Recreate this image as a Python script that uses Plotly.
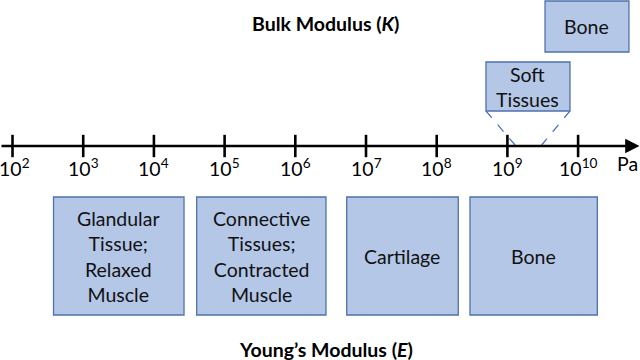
import plotly.graph_objects as go

# ---- data (values in log10 Pa) ----
tick_exponents = [2, 3, 4, 5, 6, 7, 8, 9, 10]
unit_label = "Pa"

young_labels = ["Glandular<br>Tissue;<br>Relaxed<br>Muscle",
                "Connective<br>Tissues;<br>Contracted<br>Muscle",
                "Cartilage", "Bone"]
young_low = [2.58, 4.605, 6.727, 8.471]
young_high = [4.426, 6.434, 8.305, 10.272]

bulk_labels = ["Soft<br>Tissues", "Bone"]
bulk_low = [8.697, 9.532]
bulk_high = [9.885, 10.719]
soft_range = [9.108, 9.485]   # where the soft-tissue callout meets the axis

title_top = "Bulk Modulus (<i>K</i>)"
title_bottom = "Young\u2019s Modulus (<i>E</i>)"

# ---- style ----
FONT = "Lato"
FILL = "#B4C7E7"
EDGE = "#4F72AC"
X_RANGE = [1.823, 10.8755]
AXIS_Y = 146
young_y = (197, 315)
bulk_y = [(62, 111), (1, 52)]
TXT = 19.5

fig = go.Figure()

shapes = []
annotations = []

# axis line with arrow
annotations.append(dict(x=10.868, y=AXIS_Y, ax=X_RANGE[0], ay=AXIS_Y,
                        xref="x", yref="y", axref="x", ayref="y",
                        showarrow=True, arrowhead=2, arrowsize=1.1,
                        arrowwidth=2.6, arrowcolor="black", text=""))

# ticks
fig.add_trace(go.Scatter(x=tick_exponents, y=[AXIS_Y] * len(tick_exponents),
                         mode="markers", hoverinfo="skip",
                         marker=dict(symbol="line-ns", size=16,
                                     line=dict(width=2.6, color="black"))))

# tick labels
for i, e in enumerate(tick_exponents):
    annotations.append(dict(x=e, y=167, xref="x", yref="y",
                            text=f"10<sup>{e}</sup>", showarrow=False,
                            xanchor="center", yanchor="middle",
                            xshift=2 if i == 0 else 0,
                            font=dict(family=FONT, size=TXT, color="black")))
annotations.append(dict(x=X_RANGE[1], y=163, xref="x", yref="y", text=unit_label,
                        showarrow=False, xanchor="right", yanchor="middle",
                        font=dict(family=FONT, size=TXT, color="black")))

# Young's modulus boxes
for lab, lo, hi in zip(young_labels, young_low, young_high):
    shapes.append(dict(type="rect", xref="x", yref="y", x0=lo, x1=hi,
                       y0=young_y[0], y1=young_y[1], fillcolor=FILL,
                       line=dict(color=EDGE, width=1.3), layer="below"))
    annotations.append(dict(x=(lo + hi) / 2, y=(young_y[0] + young_y[1]) / 2,
                            xref="x", yref="y", text=lab, showarrow=False,
                            font=dict(family=FONT, size=TXT, color="#111111")))

# Bulk modulus boxes
for lab, lo, hi, (y0, y1) in zip(bulk_labels, bulk_low, bulk_high, bulk_y):
    shapes.append(dict(type="rect", xref="x", yref="y", x0=lo, x1=hi,
                       y0=y0, y1=y1, fillcolor=FILL,
                       line=dict(color=EDGE, width=1.3), layer="below"))
    annotations.append(dict(x=(lo + hi) / 2, y=(y0 + y1) / 2, xref="x", yref="y",
                            text=lab, showarrow=False,
                            font=dict(family=FONT, size=TXT, color="#111111")))

# dashed callout lines
for bx, ax_x in zip([bulk_low[0], bulk_high[0]], soft_range):
    shapes.append(dict(type="line", xref="x", yref="y", x0=bx, y0=bulk_y[0][1],
                       x1=ax_x, y1=AXIS_Y - 1,
                       line=dict(color="#4472C4", width=1.2, dash="dash")))

# titles
annotations.append(dict(x=0.508, y=23, xref="paper", yref="y", text=f"<b>{title_top}</b>",
                        showarrow=False, font=dict(family=FONT, size=TXT, color="black")))
annotations.append(dict(x=0.509, y=349, xref="paper", yref="y", text=f"<b>{title_bottom}</b>",
                        showarrow=False, font=dict(family=FONT, size=TXT, color="black")))

fig.update_layout(
    width=640, height=360,
    margin=dict(l=0, r=0, t=0, b=0),
    paper_bgcolor="white", plot_bgcolor="white",
    showlegend=False,
    font=dict(family=FONT, size=TXT, color="black"),
    xaxis=dict(range=X_RANGE, visible=False, fixedrange=True),
    yaxis=dict(range=[360, 0], visible=False, fixedrange=True),
    shapes=shapes, annotations=annotations,
)

fig.write_html("out.html", config={"displayModeBar": False},
               post_script="document.body.style.margin='0';document.body.style.overflow='hidden';")
